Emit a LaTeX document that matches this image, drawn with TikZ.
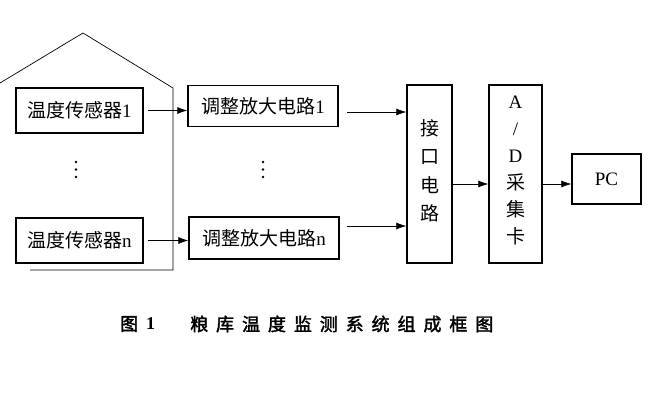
\documentclass[tikz,border=0pt]{standalone}
\usepackage{fontspec}
\setmainfont{Liberation Serif}
\newfontfamily\cjk{Noto Sans CJK SC}
\newfontfamily\cjkcap[FakeBold=2,LetterSpace=44]{Noto Sans CJK SC}
\newfontfamily\cjkcapb[FakeBold=2]{Noto Sans CJK SC}
\usetikzlibrary{arrows.meta}
\tikzset{
  blk/.style={draw, line width=1.3pt, inner sep=0pt, font=\fontsize{19}{20}\selectfont\cjk},
  conn/.style={line width=0.7pt},
  arr/.style={conn, -{Latex[length=10pt,width=7pt]}},
  dotc/.style={circle, fill, inner sep=0pt, minimum size=2.8pt},
  vtext/.style={inner sep=0pt, align=center}
}
\begin{document}
\begin{tikzpicture}[x=1pt,y=-1pt]
\useasboundingbox (0,0) rectangle (649,406);
% sensors
\node[blk, minimum width=127pt, minimum height=45pt] (s1) at (79.5,110.5) {温度传感器{\rmfamily 1}};
\node[blk, minimum width=127pt, minimum height=45pt] (sn) at (79.5,240.5) {温度传感器{\rmfamily n}};
% amplifiers
\node[blk, minimum width=150pt, minimum height=41pt] (a1) at (263,106) {调整放大电路{\rmfamily 1}};
\node[blk, minimum width=150pt, minimum height=42pt] (an) at (264,238) {调整放大电路{\rmfamily n}};
% interface
\node[blk, minimum width=45pt, minimum height=178pt] (itf) at (429.5,174) {};
\node[vtext, font=\fontsize{19}{28.5}\selectfont\cjk] (itft) at (429.5,171) {接\\口\\电\\路};
% A/D
\node[blk, minimum width=53pt, minimum height=178pt] (ad) at (515.5,174) {};
\node[vtext, font=\fontsize{19}{27}\selectfont\cjk] (adt) at (515.5,170) {{\rmfamily A}\\{\rmfamily /}\\{\rmfamily D}\\采\\集\\卡};
% PC
\node[blk, minimum width=69pt, minimum height=50pt, font=\fontsize{19}{20}\selectfont\rmfamily] (pc) at (606.5,179) {PC};
% dots
\node[dotc] (d1a) at (76,162) {};
\node[dotc] (d1b) at (76,169.5) {};
\node[dotc] (d1c) at (76,177) {};
\node[dotc] (d2a) at (263,162) {};
\node[dotc] (d2b) at (263,169.5) {};
\node[dotc] (d2c) at (263,177) {};
% enclosure (house shape)
\coordinate (h0) at (0,83);
\coordinate (h1) at (83,33);
\coordinate (h2) at (173,88);
\coordinate (h3) at (173,270);
\coordinate (h4) at (30,270);
\draw[conn] (h0) -- (h1) -- (h2) -- (h3) -- (h4);
% connectors
\draw[arr] ([xshift=4pt]s1.east) -- (a1.west |- s1.east);
\draw[arr] ([xshift=4pt]sn.east) -- (an.west |- sn.east);
\coordinate (p1) at (347,112);
\coordinate (p2) at (347,226);
\draw[arr] (p1) -- (itf.west |- p1);
\draw[arr] (p2) -- (itf.west |- p2);
\draw[arr] (itf.east |- 0,184) -- (ad.west |- 0,184);
\draw[arr] (ad.east |- 0,184) -- (pc.west |- 0,184);
% caption
\node[inner sep=0pt, anchor=west, font=\fontsize{18}{18}\selectfont\cjkcapb] (cap0) at (120,324) {图};
\node[inner sep=0pt, anchor=west, font=\fontsize{18}{18}\selectfont\rmfamily\bfseries] (cap1) at (146,324) {1};
\node[inner sep=0pt, anchor=west, font=\fontsize{18}{18}\selectfont\cjkcap] (cap) at (190,324) {粮库温度监测系统组成框图};
\end{tikzpicture}
\end{document}
